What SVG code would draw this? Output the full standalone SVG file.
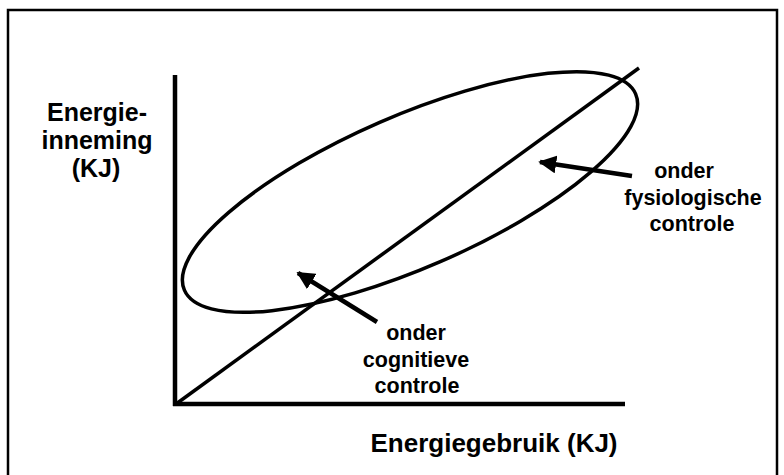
<svg xmlns="http://www.w3.org/2000/svg" width="784" height="475" viewBox="0 0 784 475">
<style>
text{font-family:"Liberation Sans",Arial,sans-serif;font-weight:bold;fill:#000;text-anchor:middle}
.big{font-size:25px}
.lbl{font-size:21.5px}
.ln{stroke:#000;fill:none}
</style>
<defs>
<marker id="ah" viewBox="0 0 10 10" refX="9" refY="5" markerWidth="4" markerHeight="4" orient="auto" markerUnits="strokeWidth">
<path d="M0,0 L10,5 L0,10 Z" fill="#000"/>
</marker>
</defs>
<rect width="784" height="475" fill="#fff"/>
<path class="ln" d="M8,480 V10 H777 V480" stroke-width="2.5"/>
<g id="axes">
<line class="ln" x1="175" y1="75" x2="175" y2="406" stroke-width="4.5"/>
<line class="ln" x1="173" y1="404" x2="625" y2="404" stroke-width="4.5"/>
</g>
<g id="diagonal">
<line class="ln" x1="176" y1="404" x2="639" y2="68" stroke-width="3.5"/>
</g>
<g id="ellipse">
<ellipse class="ln" cx="410" cy="192" rx="246" ry="76" transform="rotate(-23.5 410 192)" stroke-width="3.5"/>
</g>
<g id="connectors">
<line class="ln" x1="632" y1="176" x2="540" y2="162" stroke-width="4.5" marker-end="url(#ah)"/>
<line class="ln" x1="377" y1="322" x2="298" y2="273" stroke-width="4.5" marker-end="url(#ah)"/>
</g>
<g id="ylabel">
<text class="big" x="97" y="121">Energie-</text>
<text class="big" x="97" y="149">inneming</text>
<text class="big" x="96" y="177">(KJ)</text>
</g>
<g id="xlabel">
<text class="big" x="494" y="452" style="font-size:26px">Energiegebruik (KJ)</text>
</g>
<g id="fysio">
<text class="lbl" x="684" y="178">onder</text>
<text class="lbl" x="693" y="205">fysiologische</text>
<text class="lbl" x="692" y="231">controle</text>
</g>
<g id="cogn">
<text class="lbl" x="416" y="340">onder</text>
<text class="lbl" x="416" y="367">cognitieve</text>
<text class="lbl" x="417" y="393">controle</text>
</g>
</svg>
